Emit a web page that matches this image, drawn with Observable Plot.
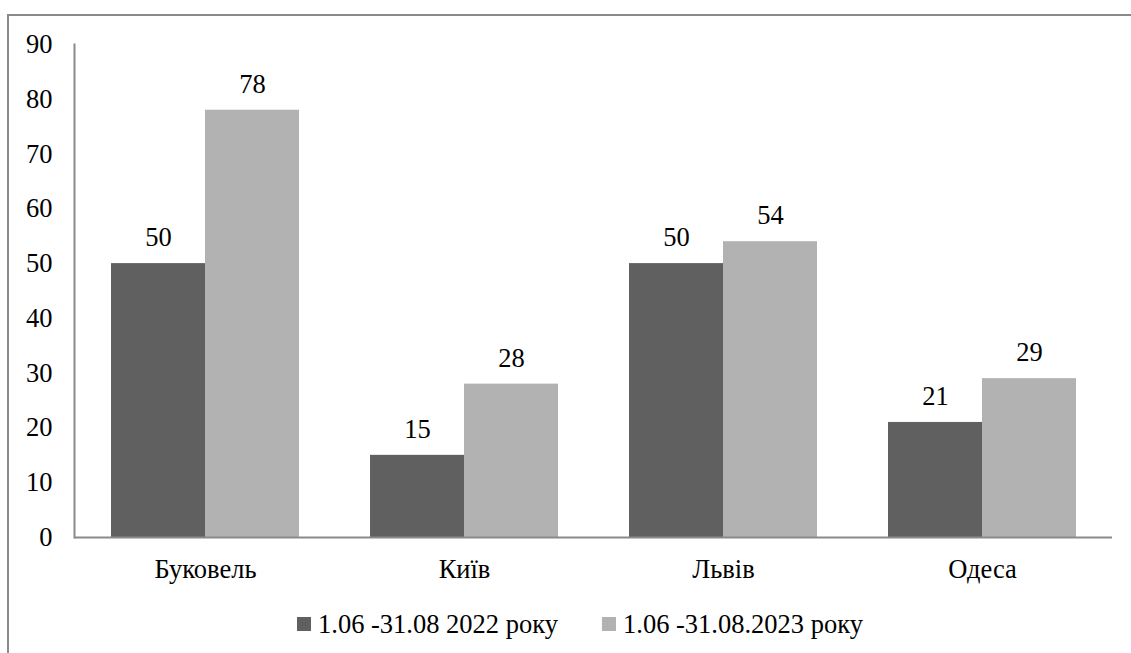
<!DOCTYPE html>
<html>
<head>
<meta charset="utf-8">
<style>
  html, body { margin: 0; padding: 0; background: #fff; width: 1131px; height: 653px; overflow: hidden; font-family: 'Liberation Serif', serif; }
  #box { position: absolute; left: 7px; top: 14px; width: 1200px; height: 800px; border-left: 2px solid #8a8a8a; border-top: 2px solid #8a8a8a; }
  #chart { position: absolute; left: 0; top: 0; }
  #legend { position: absolute; top: 0; left: 0; width: 1131px; height: 653px; font-family: 'Liberation Serif', serif; font-size: 26.5px; color: #000; }
  .sw { position: absolute; width: 14px; height: 14px; top: 617px; }
  .lt { position: absolute; white-space: nowrap; line-height: 26px; top: 611px; }
</style>
<script src="https://cdn.jsdelivr.net/npm/d3@7"></script>
<script src="https://cdn.jsdelivr.net/npm/@observablehq/plot@0.6"></script>
</head>
<body>
<div id="box"></div>
<div id="chart"></div>
<div id="legend"></div>
<script>
const categories = ["Буковель", "Київ", "Львів", "Одеса"];
const seriesNames = ["1.06 -31.08 2022 року", "1.06 -31.08.2023 року"];
const values2022 = [50, 15, 50, 21];
const values2023 = [78, 28, 54, 29];
const yTicks = [0, 10, 20, 30, 40, 50, 60, 70, 80, 90];
const colors = ["#606060", "#b2b2b2"];

const rows2022 = categories.map((c, i) => ({category: c, series: seriesNames[0], value: values2022[i]}));
const rows2023 = categories.map((c, i) => ({category: c, series: seriesNames[1], value: values2023[i]}));

const axisColor = "#8a8a8a";
const serif = "'Liberation Serif', serif";
const fs = 26.5;
const chart = Plot.plot({
  width: 1131,
  height: 580,
  marginLeft: 74,
  marginRight: 19,
  marginTop: 44,
  marginBottom: 43,
  style: {fontFamily: serif, fontSize: fs + "px", color: "#000", background: "transparent", overflow: "visible"},
  x: {domain: categories, paddingInner: 0.2755, paddingOuter: 0.1378, label: null, axis: null},
  y: {domain: [0, 90], label: null, axis: null},
  color: {domain: seriesNames, range: colors},
  marks: [
    Plot.barY(rows2022, {x: "category", y: "value", fill: "series", insetRight: 94, insetLeft: 0}),
    Plot.barY(rows2023, {x: "category", y: "value", fill: "series", insetLeft: 94, insetRight: 0}),
    Plot.text(rows2022, {x: "category", y: "value", text: d => String(d.value), dx: -47, dy: -26, fontSize: fs, fontFamily: serif, fill: "#000"}),
    Plot.text(rows2023, {x: "category", y: "value", text: d => String(d.value), dx: 47, dy: -26, fontSize: fs, fontFamily: serif, fill: "#000"}),
    Plot.axisY(yTicks, {tickSize: 0, tickPadding: 22, label: null, fontSize: fs, fontFamily: serif, fill: "#000", tickFormat: d => String(d)}),
    Plot.axisX({tickSize: 0, tickPadding: 22, label: null, fontSize: fs, fontFamily: serif, fill: "#000"}),
    Plot.ruleY([0], {stroke: axisColor, strokeWidth: 2}),
    Plot.frame({anchor: "left", stroke: axisColor, strokeWidth: 2})
  ]
});
chart.style.fontFamily = serif;
document.getElementById("chart").appendChild(chart);

const legend = document.getElementById("legend");
const swatchX = [297, 602];
const textX = [318, 623];
seriesNames.forEach((name, i) => {
  const sw = document.createElement("div");
  sw.className = "sw";
  sw.style.left = swatchX[i] + "px";
  sw.style.background = colors[i];
  legend.appendChild(sw);
  const t = document.createElement("span");
  t.className = "lt";
  t.style.left = textX[i] + "px";
  t.textContent = name;
  legend.appendChild(t);
});
</script>
</body>
</html>
